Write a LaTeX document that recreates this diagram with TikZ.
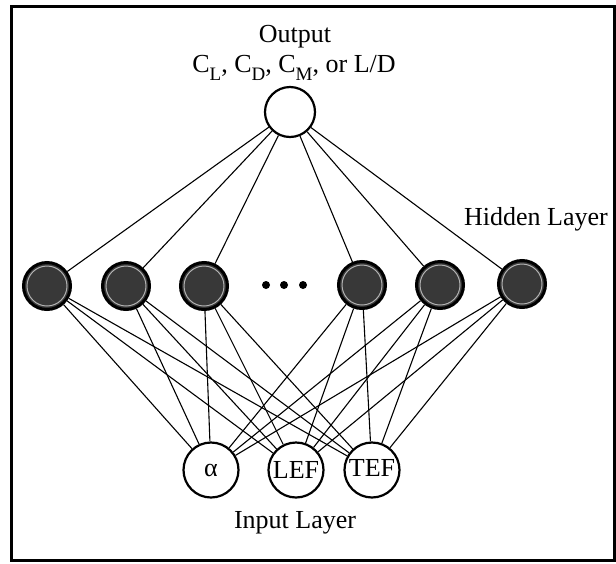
\documentclass[tikz,border=0pt]{standalone}
\usepackage{fontspec}
\setmainfont{Liberation Serif}
\newcommand{\lowsub}[1]{\raisebox{-0.32em}{\fontsize{19}{19}\selectfont #1}}
\begin{document}
\begin{tikzpicture}[x=1pt,y=-1pt,
  inunit/.style={circle,draw,line width=2.2pt,minimum size=55pt,inner sep=0pt,fill=white,
                 font=\fontsize{26}{30}\selectfont},
  outunit/.style={circle,draw,line width=2.2pt,minimum size=50pt,inner sep=0pt,fill=white},
  hidunit/.style={circle,draw,line width=3pt,minimum size=47pt,inner sep=0pt,fill=black!78},
  dotunit/.style={circle,fill,minimum size=8pt,inner sep=0pt},
  link/.style={line width=1.1pt},
  lbl/.style={font=\fontsize{26}{30}\selectfont,inner sep=0pt,anchor=base}]

\useasboundingbox (0,0) rectangle (616,563);
\draw[line width=3pt] (11,6) rectangle (614,560);

% labels
\node[lbl] (ttl) at (295,42) {Output};
\node[lbl] (vars) at (294,72) {C\lowsub{L}, C\lowsub{D}, C\lowsub{M}, or L/D};
\node[lbl] (hlab) at (536,225) {Hidden Layer};
\node[lbl] (ilab) at (295,528) {Input Layer};

% output unit
\node[outunit] (o) at (290,112) {};

% hidden units
\node[hidunit] (h1) at (47,286) {};
\node[hidunit] (h2) at (126,286) {};
\node[hidunit] (h3) at (204,286) {};
\node[hidunit] (h4) at (362,285) {};
\node[hidunit] (h5) at (440,285) {};
\node[hidunit] (h6) at (522,284) {};
\foreach \h in {h1,h2,h3,h4,h5,h6}
  \draw[gray!60,line width=1pt] (\h.center) circle (20pt);

% ellipsis between hidden units
\node[dotunit] (d1) at (266,285) {};
\node[dotunit] (d2) at (284,285) {};
\node[dotunit] (d3) at (303,285) {};

% input units
\node[inunit] (a) at (211,470) {α};
\node[inunit] (lef) at (296,470) {LEF};
\node[inunit] (tef) at (372,470) {\raisebox{5pt}{TEF}};

% connections
\foreach \h in {h1,h2,h3,h4,h5,h6}
  \draw[link] (o) -- (\h);
\foreach \h in {h1,h2,h3,h4,h5,h6}
  \foreach \i in {a,lef,tef}
    \draw[link] (\h) -- (\i);
\end{tikzpicture}
\end{document}
